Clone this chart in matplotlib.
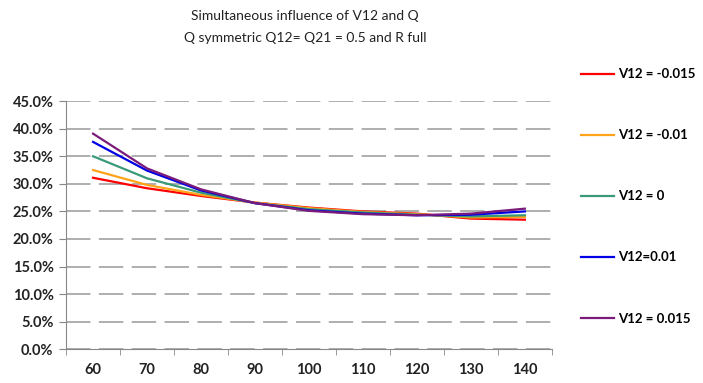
import matplotlib
matplotlib.use('Agg')
import matplotlib.pyplot as plt
from matplotlib.ticker import PercentFormatter, FixedLocator

# data (percent)
categories = [60, 70, 80, 90, 100, 110, 120, 130, 140]
v_m015 = [31.1, 29.2, 27.8, 26.6, 25.7, 25.0, 24.6, 23.7, 23.5]
v_m010 = [32.5, 29.8, 28.0, 26.6, 25.6, 24.9, 24.5, 23.9, 24.0]
v_0 = [35.0, 31.0, 28.4, 26.5, 25.4, 24.8, 24.4, 24.1, 24.3]
v_p010 = [37.6, 32.4, 28.8, 26.5, 25.2, 24.6, 24.3, 24.4, 25.0]
v_p015 = [39.1, 32.8, 29.0, 26.5, 25.1, 24.5, 24.3, 24.6, 25.5]
labels = ['V12 = -0.015', 'V12 = -0.01', 'V12 = 0', 'V12=0.01', 'V12 = 0.015']
colors = ['#ff0000', '#ffa31a', '#3a9a78', '#0000e6', '#7a1a7a']

plt.rcParams['font.family'] = ['Lato', 'DejaVu Sans']

fig = plt.figure(figsize=(7.03, 3.83), dpi=100)
ax = fig.add_axes([0.094, 0.088, 0.691, 0.648])

pos = list(range(len(categories)))
for series, lab, col in zip([v_m015, v_m010, v_0, v_p010, v_p015], labels, colors):
    ax.plot(pos, series, color=col, linewidth=1.6, label=lab)

ax.set_xlim(-0.5, len(categories) - 0.5)
ax.set_ylim(0, 45)
ax.set_yticks([0, 5, 10, 15, 20, 25, 30, 35, 40, 45])
ax.yaxis.set_major_formatter(PercentFormatter(decimals=1))
ax.set_xticks(pos)
ax.set_xticklabels([str(c) for c in categories])
ax.xaxis.set_minor_locator(FixedLocator([p - 0.5 for p in pos] + [len(pos) - 0.5]))
ax.tick_params(axis='x', which='major', length=0, pad=10)
ax.tick_params(axis='x', which='minor', length=4, color='#888888', direction='out')
ax.tick_params(axis='y', length=5, color='#888888', direction='out', pad=4)
for lbl in ax.get_xticklabels() + ax.get_yticklabels():
    lbl.set_fontsize(10.5)
    lbl.set_fontweight('bold')
    lbl.set_color('#222222')

ax.grid(axis='y', color='#999999', linestyle=(0, (16, 5.5)), linewidth=1.1)
ax.set_axisbelow(True)
for side in ['top', 'right']:
    ax.spines[side].set_visible(False)
ax.spines['left'].set_color('#888888')
ax.spines['bottom'].set_color('#888888')

fig.text(0.434, 0.958, 'Simultaneous influence of V12 and Q', ha='center', va='center',
         fontsize=10, color='#222222')
fig.text(0.434, 0.9, 'Q symmetric Q12= Q21 = 0.5 and R full', ha='center', va='center',
         fontsize=10, color='#222222')

leg = fig.legend(loc='upper left', bbox_to_anchor=(0.81, 0.853), frameon=False,
                 handlelength=2.5, handletextpad=0.25, labelspacing=3.72,
                 prop={'size': 9.5, 'weight': 'bold'})

fig.savefig('out.png', dpi=100)
